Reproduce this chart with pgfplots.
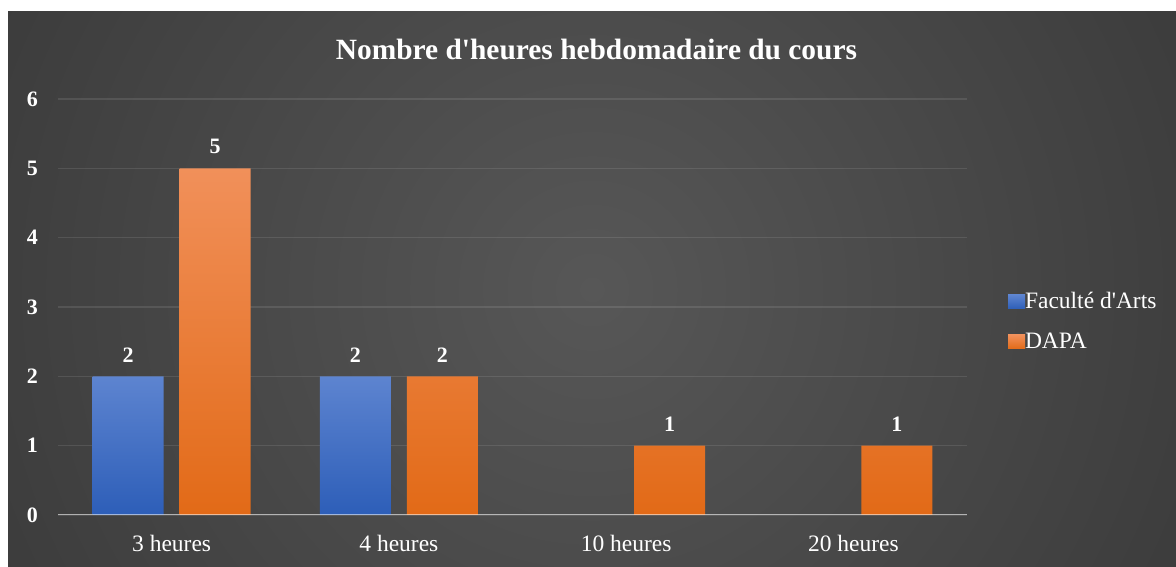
\documentclass[border=0pt]{standalone}
\usepackage{fontspec}
\setmainfont{Liberation Serif}[Ligatures=TeXOff]
\usepackage{pgfplots}
\pgfplotsset{compat=1.18}
\definecolor{bgc}{HTML}{575757}
\definecolor{bgm}{HTML}{2A2A2A}
\definecolor{bgo}{HTML}{242424}
\definecolor{bluetop}{HTML}{5D84D0}
\definecolor{bluemid}{HTML}{4570C6}
\definecolor{bluebot}{HTML}{2D5EB8}
\definecolor{ortop}{HTML}{F1905A}
\definecolor{ormid}{HTML}{F5822F}
\definecolor{orbot}{HTML}{E26A17}
\pgfdeclareradialshading{bgshade}{\pgfpoint{0bp}{0bp}}{color(0bp)=(bgc); color(42bp)=(bgm); color(50bp)=(bgo)}
\begin{document}
\begin{tikzpicture}
\useasboundingbox (0,0) rectangle (1176pt,567pt);
\fill[white] (0,0) rectangle (1176pt,567pt);
\begin{scope}
\clip (8pt,0) rectangle (1176pt,555pt);
\shade[shading=bgshade] (592pt,277.5pt) circle (650pt);
\end{scope}
\node[anchor=base, text=white, font=\bfseries\fontsize{29.4}{34}\selectfont] at (596.5pt,507pt) {Nombre d'heures hebdomadaire du cours};
\begin{axis}[
  at={(58pt,52pt)}, anchor=south west,
  scale only axis, width=909pt, height=416pt,
  xmin=-0.5, xmax=3.5, ymin=0, ymax=6,
  ybar=16pt, bar width=71pt,
  xtick={0,1,2,3},
  xticklabels={3 heures, 4 heures, 10 heures, 20 heures},
  ytick={0,1,2,3,4,5,6},
  /pgf/number format/assume math mode=true,
  axis line style={draw=none},
  tick style={draw=none},
  ymajorgrids,
  grid style={draw=white, draw opacity=0.1, line width=1.5pt},
  xticklabel style={inner sep=0pt, anchor=north, yshift=-16pt, text=white, font=\fontsize{23.5}{28}\selectfont},
  yticklabel style={inner sep=0pt, anchor=east, xshift=-20pt, text=white, font=\bfseries\fontsize{22}{26}\selectfont},
  nodes near coords,
  every node near coord/.append style={anchor=south, inner sep=0pt, yshift=14pt, text=white, font=\bfseries\fontsize{22}{26}\selectfont},
  legend style={at={(1.0451,0.4651)}, anchor=west, draw=none, fill=none, text=white,
    inner sep=0pt, outer sep=0pt,
    font=\fontsize{23.5}{28}\selectfont, row sep=23pt, column sep=0pt,
    nodes={inner xsep=0pt, inner ysep=0pt},
    cells={anchor=base west}},
  legend image code/.code={\fill[#1] (0pt,0pt) rectangle (13pt,14pt); \path (0pt,0pt) rectangle (17pt,14pt);},
]
\addplot[draw=none, top color=bluetop, middle color=bluemid, bottom color=bluebot]
  coordinates {(0,2) (1,2)};
\addlegendentry{Faculté d'Arts}
\addplot[draw=none, top color=ortop, middle color=ormid, bottom color=orbot]
  coordinates {(0,5) (1,2) (2,1) (3,1)};
\addlegendentry{DAPA}
\draw[white, draw opacity=0.55, line width=2pt] (axis cs:-0.5,0) -- (axis cs:3.5,0);
\end{axis}
\end{tikzpicture}
\end{document}
